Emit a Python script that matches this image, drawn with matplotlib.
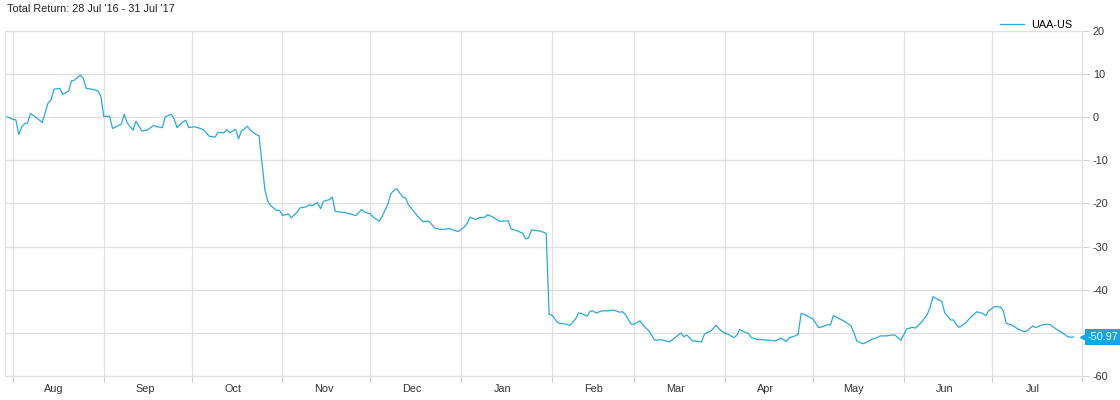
import numpy as np
import pandas as pd
import matplotlib
matplotlib.use("Agg")
import matplotlib.pyplot as plt
import matplotlib.dates as mdates
import matplotlib.ticker as mticker
import matplotlib.transforms as mtransforms

# --- Data: days since 1 Aug 2016, total return in % ---
day_offsets = [
    -2, 0, 1, 2, 3, 4, 5, 6, 8, 10, 12, 13, 14, 16, 17, 19, 20, 21, 23, 24,
    25, 27, 29, 30, 31, 33, 34, 37, 38, 39, 41, 42, 44, 46, 48, 49, 51, 52, 54, 55,
    56, 58, 59, 60, 62, 64,
    65, 67, 69, 70, 72, 73, 74, 76, 77, 78, 80, 81, 83, 84, 85, 86, 87, 88, 90, 91,
    92, 94, 95, 97, 98, 100, 101, 102, 104, 105, 106, 108, 109, 110, 114, 116, 117, 119, 120, 122,
    123, 125, 126, 128, 129, 130, 131, 133, 134, 135, 137, 139, 140, 142, 144, 146, 147, 149, 150, 152,
    154, 155, 156, 158, 159, 161, 162, 164, 166, 167, 169, 170, 172, 174, 175, 176, 177, 179, 180, 182,
    183, 184, 186, 187, 189, 190, 192, 193, 194, 196, 197, 198, 199, 201, 203, 205, 207, 208, 209, 211,
    212, 214, 215, 217, 219, 221, 222, 224, 226, 228, 229, 230, 232, 233, 235, 236, 237, 238, 240, 241,
    243, 244, 246, 247, 248, 250, 251, 252, 254, 256, 258, 260, 261, 262, 264, 265, 267, 268, 269, 270,
    272, 273, 275, 277, 278, 279, 280, 282, 284, 286, 287, 288, 290, 291, 293, 295, 296, 298, 300, 301,
    303, 304, 305, 307, 308, 310, 312, 313, 314, 315, 317, 318, 320, 321, 322, 323, 325, 327, 329, 331,
    332, 333, 335, 337, 338, 339, 340, 341, 343, 345, 346, 348, 349, 351, 353, 354, 356, 358, 360, 361,
    362,
]
total_return = [
    0.1, -0.5, -0.6, -4.0, -2.2, -1.5, -1.3, 0.9, -0.1, -1.2, 3.3, 4.0, 6.5, 6.7, 5.3, 6.1, 8.4, 8.6, 9.8, 9.0,
    6.7, 6.5, 6.1, 4.9, 0.2, 0.2, -2.6, -1.6, 0.7, -1.3, -3.0, -0.9, -3.2, -2.9, -1.9, -2.2, -2.4, 0.1, 0.7, -0.3,
    -2.4, -1.1, -0.7, -2.4, -2.2, -2.6,
    -2.9, -4.4, -4.6, -3.5, -3.6, -2.9, -3.6, -2.8, -5.0, -3.2, -2.1, -3.0, -4.0, -4.3, -10.5, -16.8, -19.5, -20.5, -21.6, -21.6,
    -22.8, -22.4, -23.3, -22.0, -21.0, -20.8, -20.3, -20.5, -19.8, -21.2, -19.5, -19.1, -18.5, -21.8, -22.2, -22.6, -22.8, -21.4, -22.0, -22.4,
    -23.2, -24.1, -23.0, -20.1, -17.7, -17.0, -16.6, -18.5, -18.7, -20.3, -22.0, -23.6, -24.2, -24.1, -25.7, -26.0, -26.0, -25.8, -26.1, -26.5,
    -25.5, -24.6, -23.2, -23.7, -23.3, -23.2, -22.6, -23.2, -24.1, -24.1, -24.0, -25.9, -26.3, -26.9, -28.2, -28.0, -26.1, -26.3, -26.4, -26.9,
    -45.7, -45.9, -47.7, -47.8, -48.0, -48.3, -46.8, -45.4, -45.5, -46.1, -45.0, -44.9, -45.4, -44.9, -44.9, -44.7, -45.2, -45.1, -45.7, -48.0,
    -48.0, -47.2, -48.2, -49.5, -51.7, -51.6, -51.7, -52.1, -51.1, -50.0, -50.9, -50.5, -51.9, -51.9, -52.1, -50.3, -49.9, -49.7, -48.2, -49.1,
    -50.1, -50.3, -51.1, -50.6, -49.2, -49.9, -50.1, -51.1, -51.5, -51.6, -51.7, -51.9, -51.6, -51.2, -52.0, -51.1, -50.7, -50.3, -45.5, -45.7,
    -46.4, -46.8, -48.8, -48.4, -48.1, -48.2, -46.0, -46.7, -47.4, -48.4, -49.9, -51.9, -52.5, -52.3, -51.5, -51.1, -50.7, -50.7, -50.5, -50.5,
    -51.7, -50.5, -49.1, -48.7, -48.9, -47.6, -45.8, -44.1, -41.6, -42.0, -42.7, -45.3, -47.0, -47.0, -48.1, -48.7, -47.8, -46.3, -45.1, -45.5,
    -46.0, -44.9, -43.9, -44.0, -44.9, -47.8, -48.0, -48.2, -49.1, -49.7, -49.6, -48.4, -48.8, -48.2, -48.0, -48.1, -49.1, -49.9, -50.9, -51.0,
    -50.97,
]
y_ticks = [20, 10, 0, -10, -20, -30, -40, -50, -60]
series_name = "UAA-US"
title = "Total Return: 28 Jul '16 - 31 Jul '17"

line_color = "#2aa8dc"
label_color = "#12a6e4"
grid_color = "#e0e0e0"

plt.rcParams["font.family"] = ["Liberation Sans", "DejaVu Sans"]
plt.rcParams["axes.unicode_minus"] = False

start = pd.Timestamp("2016-08-01")
dates = start + pd.to_timedelta(day_offsets, unit="D")
last = total_return[-1]

fig = plt.figure(figsize=(11.2, 4), dpi=100)
ax = fig.add_axes([5 / 1120, 24 / 400, 1078 / 1120, 345 / 400])

ax.plot(dates, total_return, color=line_color, lw=0.9, label=series_name)

ax.set_ylim(-60, 20)
ax.set_xlim(start - pd.Timedelta(days=2.7), start + pd.Timedelta(days=365.2))

# y axis on the right; the end tag covers the tick label next to it
ax.yaxis.tick_right()
ax.set_yticks(y_ticks)
ax.set_yticklabels(["" if abs(v - last) < 4 else str(v) for v in y_ticks])
ax.tick_params(axis="y", length=4, color="#d0d0d0", pad=3, labelsize=7.8, labelcolor="#333333")

# months: gridlines at month start, labels mid-month
ax.xaxis.set_major_locator(mdates.MonthLocator())
ax.xaxis.set_major_formatter(mticker.NullFormatter())
ax.xaxis.set_minor_locator(mdates.MonthLocator(bymonthday=15))
ax.xaxis.set_minor_formatter(mdates.DateFormatter("%b"))
ax.tick_params(axis="x", which="major", length=4, color="#d0d0d0", width=0.8)
ax.tick_params(axis="x", which="minor", length=0, pad=6, labelsize=7.8, labelcolor="#333333")

ax.grid(True, which="major", color=grid_color, lw=0.9)
for side in ["top", "bottom", "left"]:
    ax.spines[side].set_color(grid_color)
    ax.spines[side].set_linewidth(0.9)
ax.spines["right"].set_visible(False)

fig.text(7 / 1120, 1 - 9 / 400, title, fontsize=7.8, ha="left", va="center", color="#222222")

ax.legend(loc="center right", bbox_to_anchor=(0.99, 1.018), frameon=False, fontsize=7.8,
          handlelength=2.2, handletextpad=0.7, borderpad=0, borderaxespad=0)

# end-value tag
trans = mtransforms.blended_transform_factory(ax.transAxes, ax.transData)
ax.plot([1.0019], [last], marker="<", ms=7, color=label_color, transform=trans, clip_on=False)
ax.text(1.004, last, f"{last:.2f}", transform=trans, ha="left", va="center", color="white",
        fontsize=7.8, bbox=dict(boxstyle="square,pad=0.25", fc=label_color, ec="none"), clip_on=False)

fig.savefig("out.png", dpi=100)
